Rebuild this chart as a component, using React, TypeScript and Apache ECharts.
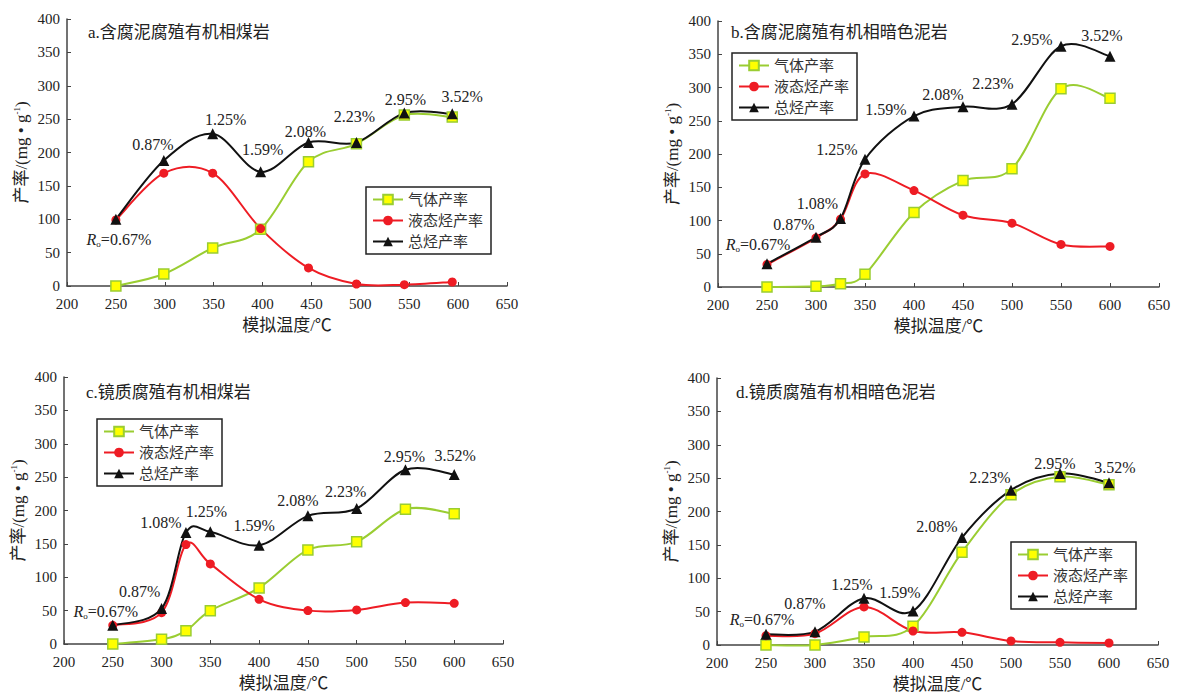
import React, { useEffect, useRef } from "react";
import * as echarts from "echarts";

// ---- data ----
const names = ["气体产率", "液态烃产率", "总烃产率"];
const titles = [
  "a.含腐泥腐殖有机相煤岩",
  "b.含腐泥腐殖有机相暗色泥岩",
  "c.镜质腐殖有机相煤岩",
  "d.镜质腐殖有机相暗色泥岩",
];

const xA = [250, 299, 349, 398, 447, 496, 545, 594];
const gasA = [0, 18, 57, 85, 186, 213, 256, 253];
const liqA = [99, 169, 169, 86, 27, 3, 2, 6];
const totA = [100, 188, 228, 171, 215, 215, 259, 258];
const roA = ["0.67%", "0.87%", "1.25%", "1.59%", "2.08%", "2.23%", "2.95%", "3.52%"];

const xB = [250, 300, 325, 350, 400, 450, 500, 550, 600];
const gasB = [0, 1, 5, 19, 112, 160, 178, 298, 284];
const liqB = [34, 74, 102, 170, 145, 108, 96, 64, 61];
const totB = [35, 75, 103, 192, 257, 271, 275, 362, 347];
const roB = ["0.67%", "0.87%", "1.08%", "1.25%", "1.59%", "2.08%", "2.23%", "2.95%", "3.52%"];

const xC = [250, 300, 325, 350, 400, 450, 500, 550, 600];
const gasC = [0, 7, 20, 50, 84, 141, 153, 202, 195];
const liqC = [28, 47, 149, 120, 67, 50, 51, 62, 61];
const totC = [28, 53, 167, 168, 148, 192, 203, 261, 254];
const roC = ["0.67%", "0.87%", "1.08%", "1.25%", "1.59%", "2.08%", "2.23%", "2.95%", "3.52%"];

const xD = [250, 300, 350, 400, 450, 500, 550, 600];
const gasD = [0, 0, 12, 28, 139, 225, 252, 240];
const liqD = [14, 17, 57, 21, 19, 6, 4, 3];
const totD = [16, 20, 70, 51, 161, 232, 257, 243];
const roD = ["0.67%", "0.87%", "1.25%", "1.59%", "2.08%", "2.23%", "2.95%", "3.52%"];

const xTicks = [200, 650, 50];
const yTicks = [0, 400, 50];

// ---- layout (positions / styles) ----
const grids = [
  { left: 67, top: 19, width: 440, height: 267 },
  { left: 718, top: 21, width: 441, height: 266 },
  { left: 64, top: 377, width: 439, height: 267 },
  { left: 717, top: 378, width: 441, height: 267 },
];
const titlePos = [
  { left: 88, top: 24 },
  { left: 731, top: 24 },
  { left: 86, top: 384 },
  { left: 736, top: 384 },
];
const legendPos = [
  { left: 366, top: 187 },
  { left: 732, top: 53 },
  { left: 97, top: 419 },
  { left: 1011, top: 542 },
];
const labelOffsets = [
  [[3, 20], [-11, -16], [13, -14], [2, -22], [-3, -11], [-2, -26], [1, -14], [10, -17]],
  [[-9, -19], [-22, -13], [-23, -15], [-28, -10], [-28, -7], [-20, -12], [-19, -21], [-29, -7], [-8, -21]],
  [[-7, -14], [-22, -17], [-25, -10], [-4, -20], [-5, -20], [-10, -15], [-11, -17], [-1, -13], [1, -19]],
  [[-4, -15], [-10, -28], [-12, -14], [-13, -18], [-25, -11], [-21, -13], [-5, -10], [6, -15]],
];

const panels = [
  { x: xA, gas: gasA, liq: liqA, tot: totA, ro: roA },
  { x: xB, gas: gasB, liq: liqB, tot: totB, ro: roB },
  { x: xC, gas: gasC, liq: liqC, tot: totC, ro: roC },
  { x: xD, gas: gasD, liq: liqD, tot: totD, ro: roD },
];

const FONT = "Liberation Serif, Noto Sans CJK SC, serif";
const TXT = "#222";
const LEG_TXT = "#333";
const AXIS = "#444";
const GREEN = "#9acd32";
const RED = "#ee1c24";
const BLACK = "#111";

// Catmull-Rom spline segment drawn through the axis scales (api.coord)
function splineSeries(i: number, xs: number[], ys: number[], color: string) {
  return {
    type: "custom",
    xAxisIndex: i,
    yAxisIndex: i,
    coordinateSystem: "cartesian2d",
    silent: true,
    z: 1,
    encode: { x: 0, y: 1 },
    data: ys.map((y, k) => [xs[k], y]),
    renderItem: (params: any, api: any) => {
      const k = params.dataIndex;
      if (k >= ys.length - 1) return null;
      const pt = (j: number) => {
        const jj = Math.max(0, Math.min(ys.length - 1, j));
        return api.coord([xs[jj], ys[jj]]);
      };
      const p0 = pt(k - 1);
      const p1 = pt(k);
      const p2 = pt(k + 1);
      const p3 = pt(k + 2);
      const t = 6;
      return {
        type: "bezierCurve",
        shape: {
          x1: p1[0],
          y1: p1[1],
          cpx1: p1[0] + (p2[0] - p0[0]) / t,
          cpy1: p1[1] + (p2[1] - p0[1]) / t,
          cpx2: p2[0] - (p3[0] - p1[0]) / t,
          cpy2: p2[1] - (p3[1] - p1[1]) / t,
          x2: p2[0],
          y2: p2[1],
        },
        style: { stroke: color, lineWidth: 2, fill: null },
      };
    },
  };
}

function buildOption() {
  const series: any[] = [];
  const xAxis: any[] = [];
  const yAxis: any[] = [];
  const legend: any[] = [];
  const title: any[] = [];

  panels.forEach((p, i) => {
    xAxis.push({
      type: "value",
      gridIndex: i,
      min: xTicks[0],
      max: xTicks[1],
      interval: xTicks[2],
      name: "模拟温度/℃",
      nameLocation: "middle",
      nameGap: 31,
      nameTextStyle: { fontFamily: FONT, fontSize: 17, color: TXT },
      axisLine: { show: true, lineStyle: { color: AXIS, width: 1.5 } },
      axisTick: { show: true, inside: true, length: 4, lineStyle: { color: AXIS } },
      axisLabel: { fontFamily: FONT, fontSize: 15, color: TXT, margin: 10 },
      splitLine: { show: false },
    });
    yAxis.push({
      type: "value",
      gridIndex: i,
      min: yTicks[0],
      max: yTicks[1],
      interval: yTicks[2],
      name: "{a|产率/(mg • g}{s|-1}{a|)}",
      nameLocation: "middle",
      nameGap: 37,
      nameRotate: 90,
      nameTextStyle: {
        color: TXT,
        rich: {
          a: { fontFamily: FONT, fontSize: 17, color: TXT, lineHeight: 18 },
          s: { fontFamily: FONT, fontSize: 9, color: TXT, verticalAlign: "top", lineHeight: 9 },
        },
      },
      axisLine: { show: true, lineStyle: { color: AXIS, width: 1.5 } },
      axisTick: { show: true, inside: true, length: 4, lineStyle: { color: AXIS } },
      axisLabel: { fontFamily: FONT, fontSize: 15, color: TXT, margin: 7 },
      splitLine: { show: false },
    });
    title.push({
      text: titles[i],
      left: titlePos[i].left,
      top: titlePos[i].top,
      padding: 0,
      textStyle: { fontFamily: FONT, fontSize: 17, fontWeight: "normal", color: TXT },
    });
    legend.push({
      data: names,
      orient: "vertical",
      left: legendPos[i].left,
      top: legendPos[i].top,
      padding: [5, 8, 5, 6],
      itemGap: 6,
      itemWidth: 30,
      itemHeight: 12,
      borderColor: "#222",
      borderWidth: 1.5,
      backgroundColor: "#fff",
      selectedMode: false,
      lineStyle: { opacity: 1, width: 2 },
      textStyle: { fontFamily: FONT, fontSize: 15, color: LEG_TXT },
    });

    // smooth lines
    series.push(splineSeries(i, p.x, p.gas, GREEN));
    series.push(splineSeries(i, p.x, p.liq, RED));
    series.push(splineSeries(i, p.x, p.tot, BLACK));

    const mk = (ys: number[]) => ys.map((y, k) => [p.x[k], y]);
    series.push({
      name: names[0],
      type: "line",
      xAxisIndex: i,
      yAxisIndex: i,
      z: 3,
      data: mk(p.gas),
      symbol: "rect",
      symbolSize: 10,
      itemStyle: { color: "#ffff00", borderColor: GREEN, borderWidth: 1.5 },
      lineStyle: { color: GREEN, width: 2, opacity: 0 },
    });
    series.push({
      name: names[1],
      type: "line",
      xAxisIndex: i,
      yAxisIndex: i,
      z: 3,
      data: mk(p.liq),
      symbol: "circle",
      symbolSize: 9,
      itemStyle: { color: RED },
      lineStyle: { color: RED, width: 2, opacity: 0 },
    });
    series.push({
      name: names[2],
      type: "line",
      xAxisIndex: i,
      yAxisIndex: i,
      z: 4,
      symbol: "triangle",
      symbolSize: 11,
      itemStyle: { color: BLACK },
      lineStyle: { color: BLACK, width: 2, opacity: 0 },
      data: p.tot.map((y, k) => ({
        value: [p.x[k], y],
        label: {
          show: true,
          position: "inside",
          offset: labelOffsets[i][k],
          formatter: k === 0 ? "{i|R}{s|o}{t|=" + p.ro[k] + "}" : "{t|" + p.ro[k] + "}",
          rich: {
            t: { fontFamily: FONT, fontSize: 16, color: TXT, lineHeight: 18 },
            i: { fontFamily: FONT, fontSize: 16, fontStyle: "italic", color: TXT, lineHeight: 18 },
            s: { fontFamily: FONT, fontSize: 9, color: TXT, verticalAlign: "bottom", lineHeight: 9 },
          },
        },
      })),
    });
  });

  return {
    animation: false,
    backgroundColor: "#fff",
    textStyle: { fontFamily: FONT },
    title,
    legend,
    grid: grids.map((g) => ({ ...g, containLabel: false })),
    xAxis,
    yAxis,
    series,
  };
}

export default function App() {
  const ref = useRef<HTMLDivElement>(null);
  useEffect(() => {
    if (!ref.current) return;
    const chart = echarts.init(ref.current, undefined, { renderer: "svg" });
    chart.setOption(buildOption() as any);
    return () => chart.dispose();
  }, []);
  return (
    <div
      ref={ref}
      style={{ position: "fixed", left: 0, top: 0, width: 1187, height: 694, background: "#fff" }}
    />
  );
}
